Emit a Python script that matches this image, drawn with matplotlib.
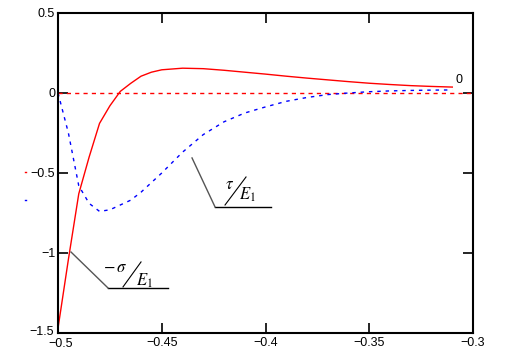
import matplotlib
matplotlib.use("Agg")
import matplotlib.pyplot as plt
import matplotlib.transforms as mtransforms
from matplotlib.lines import Line2D

plt.rcParams['mathtext.fontset'] = 'stix'

# data
x = [-0.5, -0.495, -0.49, -0.485, -0.48, -0.475, -0.47, -0.465, -0.46, -0.455,
     -0.45, -0.44, -0.43, -0.42, -0.41, -0.40, -0.39, -0.38, -0.37, -0.36,
     -0.35, -0.34, -0.33, -0.32, -0.31]
sigma = [-1.47, -1.04, -0.63, -0.40, -0.19, -0.08, 0.01, 0.06, 0.105, 0.13,
         0.145, 0.155, 0.152, 0.142, 0.13, 0.118, 0.105, 0.093, 0.082, 0.071,
         0.061, 0.053, 0.046, 0.041, 0.037]
tau = [0.0, -0.25, -0.58, -0.69, -0.74, -0.73, -0.70, -0.67, -0.62, -0.56,
       -0.50, -0.37, -0.26, -0.18, -0.125, -0.087, -0.052, -0.028, -0.01, 0.0,
       0.008, 0.013, 0.016, 0.018, 0.019]
xticks = [-0.5, -0.45, -0.4, -0.35, -0.3]
xlabels = ['\u22120.5', '\u22120.45', '\u22120.4', '\u22120.35', '\u22120.3']
yticks = [0.5, 0, -0.5, -1, -1.5]
ylabels = ['0.5', '0', '\u22120.5', '\u22121', '\u22121.5']

fig = plt.figure(figsize=(5.13, 3.61), dpi=100)
ax = fig.add_axes([0.1131, 0.0776, 0.809, 0.8864])

ax.axhline(0, color='red', lw=1, ls=(0, (3, 3)))
ax.plot(x, sigma, color='red', lw=1)
ax.plot(x, tau, color='blue', lw=1, ls=(0, (2.5, 3.5)))

ax.set_xlim(-0.5, -0.3)
ax.set_ylim(-1.5, 0.5)
ax.set_xticks(xticks)
ax.set_xticklabels(xlabels, family='Liberation Sans', size=9)
ax.set_yticks(yticks)
ax.set_yticklabels(ylabels, family='Liberation Sans', size=9)
ax.tick_params(direction='in', length=7, width=1.2, top=True, right=True)
ax.tick_params(axis='x', pad=3)
ax.tick_params(axis='y', pad=2)
for s in ax.spines.values():
    s.set_linewidth(1.5)

# nudge the two corner labels apart a little
lab = ax.get_yticklabels()[-1]
lab.set_transform(lab.get_transform() +
                  mtransforms.ScaledTranslation(-1 / 100, 2 / 100, fig.dpi_scale_trans))
lab = ax.get_xticklabels()[0]
lab.set_transform(lab.get_transform() +
                  mtransforms.ScaledTranslation(3 / 100, -1 / 100, fig.dpi_scale_trans))

# marker label at y=0
ax.text(-0.3067, 0.08, '0', family='Liberation Sans', size=9,
        ha='center', va='center')

# tau / E1 label
tr = ax.transAxes
ax.plot([0.3783, 0.5133], [0.394, 0.394], transform=tr, color='black', lw=1)
ax.plot([0.3229, 0.3783], [0.547, 0.394], transform=tr, color='#555555', lw=1)
ax.plot([0.4024, 0.453], [0.40, 0.4875], transform=tr, color='black', lw=0.8)
ax.text(0.414, 0.465, r'$\tau$', transform=tr, size=12, ha='center', va='center')
ax.text(0.457, 0.432, r'$E_1$', transform=tr, size=12, ha='center', va='center')

# -sigma / E1 label
ax.plot([0.1205, 0.2651], [0.1406, 0.1406], transform=tr, color='black', lw=1)
ax.plot([0.0313, 0.1205], [0.253, 0.1406], transform=tr, color='#555555', lw=1)
ax.plot([0.1566, 0.200], [0.144, 0.222], transform=tr, color='black', lw=0.8)
ax.text(0.138, 0.206, r'$-\,\sigma$', transform=tr, size=12, ha='center', va='center')
ax.text(0.207, 0.162, r'$E_1$', transform=tr, size=12, ha='center', va='center')

# tiny legend remnants left of the axis
fig.add_artist(Line2D([0.048, 0.051], [1 - 172 / 361] * 2, color='red', lw=1))
fig.add_artist(Line2D([0.048, 0.051], [1 - 200 / 361] * 2, color='blue', lw=1))

fig.savefig('out.png', dpi=100)
